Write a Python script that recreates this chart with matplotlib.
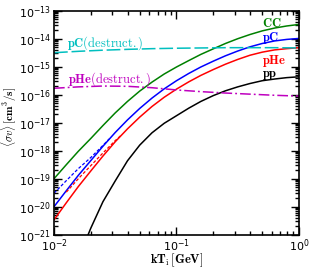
import numpy as np
import matplotlib
matplotlib.use("Agg")
import matplotlib.pyplot as plt
from matplotlib.ticker import LogLocator, NullFormatter

plt.rcParams['mathtext.fontset'] = 'cm'

# temperatures (GeV) where curves were read, and log10 of <sigma v> (cm^3/s)
T = [0.01, 0.0126, 0.0158, 0.02, 0.0251, 0.0316, 0.0398, 0.0501, 0.0631, 0.0794,
     0.1, 0.126, 0.158, 0.2, 0.251, 0.316, 0.398, 0.501, 0.631, 0.794, 1.0]
lg_CC = [-19.00, -18.50, -18.02, -17.56, -17.10, -16.65, -16.24, -15.87, -15.55, -15.26,
         -15.01, -14.78, -14.56, -14.36, -14.17, -14.00, -13.85, -13.72, -13.62, -13.545, -13.49]
lg_pC = [-20.00, -19.43, -18.88, -18.35, -17.84, -17.35, -16.90, -16.49, -16.12, -15.79,
         -15.50, -15.24, -15.01, -14.80, -14.61, -14.44, -14.29, -14.17, -14.08, -14.025, -13.99]
lg_pHe = [-20.47, -19.86, -19.28, -18.72, -18.19, -17.68, -17.22, -16.80, -16.42, -16.09,
          -15.80, -15.54, -15.31, -15.10, -14.91, -14.74, -14.59, -14.48, -14.40, -14.355, -14.32]

T_pp = [0.0178, 0.02, 0.0251, 0.0316, 0.0398, 0.0501, 0.0631, 0.0794, 0.1, 0.126,
        0.158, 0.2, 0.251, 0.316, 0.398, 0.501, 0.631, 0.794, 1.0]
lg_pp = [-21.3, -20.76, -19.82, -19.08, -18.36, -17.80, -17.36, -17.02, -16.75, -16.48,
         -16.24, -16.03, -15.86, -15.72, -15.60, -15.50, -15.44, -15.39, -15.36]

# low-T dashed variants
T_pC_d = [0.01, 0.0126, 0.0158, 0.02, 0.0251, 0.0282]
lg_pC_d = [-19.52, -19.07, -18.64, -18.24, -17.81, -17.58]
T_pHe_d = [0.0126, 0.0158, 0.02, 0.0251, 0.0316, 0.0355]
lg_pHe_d = [-19.48, -19.0, -18.53, -18.08, -17.64, -17.44]

# destruction rates
T_des = [0.01, 0.0158, 0.0251, 0.0398, 0.0631, 0.1, 0.158, 0.251, 0.398, 0.631, 1.0]
lg_pC_des = [-14.5, -14.45, -14.41, -14.38, -14.355, -14.34, -14.33, -14.32, -14.32, -14.32, -14.33]
lg_pHe_des = [-15.77, -15.72, -15.69, -15.70, -15.75, -15.83, -15.89, -15.94, -15.98, -16.02, -16.05]

fig = plt.figure(figsize=(3.15, 2.7), dpi=100)
ax = fig.add_axes([0.1714, 0.1307, 0.7778, 0.8296])

lw = 1.1
ax.plot(T, 10**np.array(lg_CC), color='green', lw=lw)
ax.plot(T, 10**np.array(lg_pC), color='blue', lw=lw)
ax.plot(T, 10**np.array(lg_pHe), color='red', lw=lw)
ax.plot(T_pp, 10**np.array(lg_pp), color='black', lw=lw)
ax.plot(T_pC_d, 10**np.array(lg_pC_d), color='blue', lw=0.9, dashes=(2.5, 1.5))
ax.plot(T_pHe_d, 10**np.array(lg_pHe_d), color='red', lw=0.9, dashes=(2.5, 1.5))
ax.plot(T_des, 10**np.array(lg_pC_des), color='c', lw=lw, dashes=(9, 2.5))
ax.plot(T_des, 10**np.array(lg_pHe_des), color='m', lw=lw, dashes=(7, 2, 1.2, 2))

ax.set_xscale('log')
ax.set_yscale('log')
ax.set_xlim(0.01, 1.0)
ax.set_ylim(1e-21, 1e-13)
ax.yaxis.set_major_locator(LogLocator(base=10, numticks=20))
ax.yaxis.set_minor_locator(LogLocator(base=10, subs=np.arange(2, 10), numticks=100))
ax.yaxis.set_minor_formatter(NullFormatter())
ax.tick_params(which='both', direction='in', top=True, right=True, labelsize=8, width=1, pad=2)
ax.tick_params(which='major', length=6)
ax.tick_params(which='minor', length=3)
for s in ax.spines.values():
    s.set_linewidth(1.2)

ax.set_xlabel(r'$\mathbf{kT}_\mathrm{i}\,[\mathbf{GeV}]$', fontsize=9, va='center')
ax.xaxis.set_label_coords(0.5, -0.112)
ax.set_ylabel(r'$\langle\sigma v\rangle\,[\mathbf{cm}^3/\mathbf{s}]$', fontsize=8, va='center')
ax.yaxis.set_label_coords(-0.18, 0.525)

ax.text(0.849, 0.945, r'$\mathbf{CC}$', color='green', fontsize=9, transform=ax.transAxes, va='center')
ax.text(0.849, 0.878, r'$\mathbf{pC}$', color='blue', fontsize=9, transform=ax.transAxes, va='center')
ax.text(0.849, 0.775, r'$\mathbf{pHe}$', color='red', fontsize=9, transform=ax.transAxes, va='center')
ax.text(0.849, 0.713, r'$\mathbf{pp}$', color='black', fontsize=9, transform=ax.transAxes, va='center')
ax.text(0.053, 0.856, r'$\mathbf{pC}\mathrm{(destruct.)}$', color='c', fontsize=9,
        transform=ax.transAxes, va='center')
ax.text(0.057, 0.695, r'$\mathbf{pHe}\mathrm{(destruct.)}$', color='m', fontsize=9,
        transform=ax.transAxes, va='center')

fig.savefig('out.png', dpi=100)
